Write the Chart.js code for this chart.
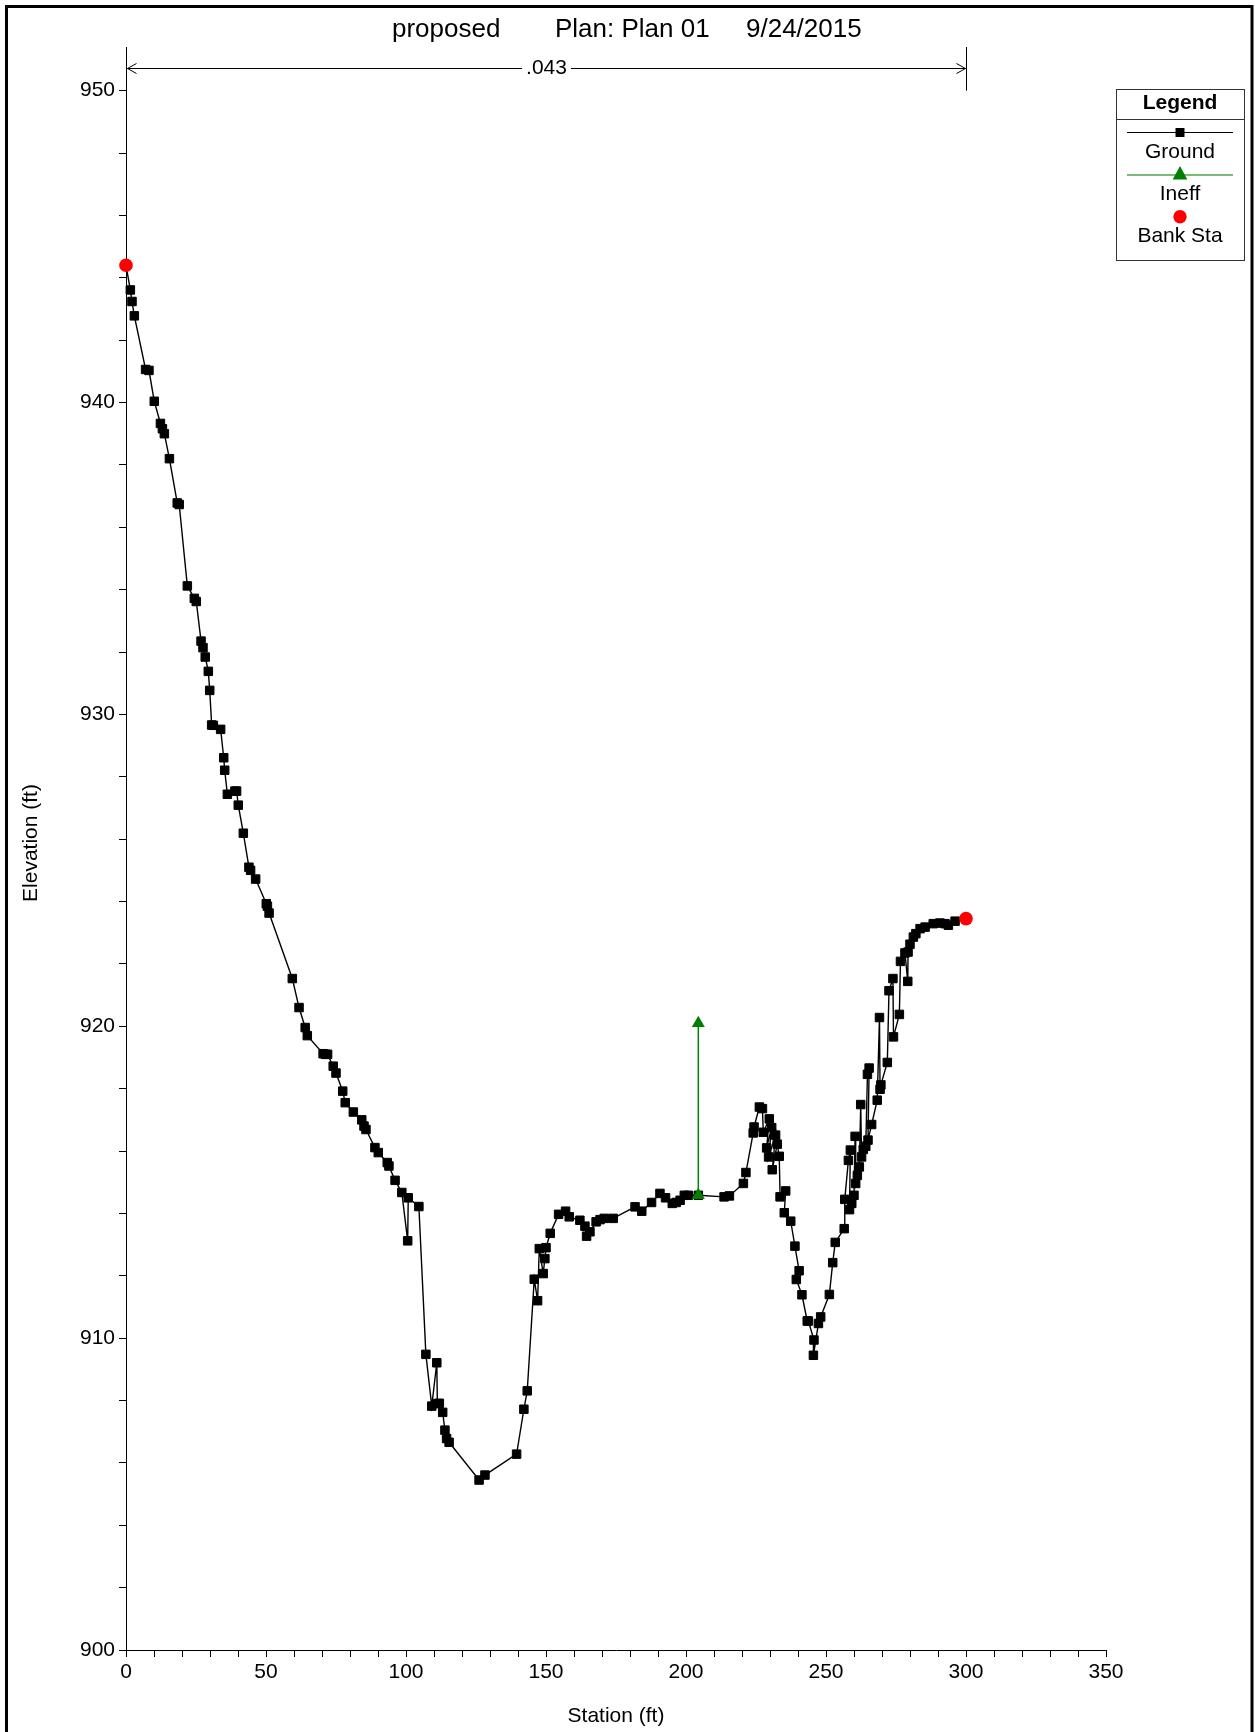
<!DOCTYPE html>
<html>
<head>
<meta charset="utf-8">
<script src="https://cdn.jsdelivr.net/npm/chart.js@4.4.1/dist/chart.umd.min.js"></script>
<style>
  html, body { margin: 0; padding: 0; background: #fff; }
  canvas { display: block; }
</style>
</head>
<body>
<canvas id="c" width="1255" height="1732"></canvas>
<script>
// ---- Data ----
const titleParts = ['proposed', 'Plan: Plan 01', '9/24/2015'];
const xTitle = 'Station (ft)';
const yTitle = 'Elevation (ft)';
const nValueLabel = '.043';
const nValueRange = [0, 300];

const groundStation = [
  0, 1.55, 2.14, 2.98, 7.0, 8.2, 10.1, 12.3, 13.0, 13.7, 15.5, 18.3, 19.0, 21.9, 24.4, 25.1,
  26.8, 27.5, 28.3, 29.4, 29.9, 30.6, 31.2, 33.8, 34.9, 35.25, 36.2, 38.9, 39.5, 40.1, 41.9,
  43.9, 44.5, 46.3, 50.1, 50.5, 51.1, 59.4, 61.8, 64.0, 64.75, 70.4, 71.2, 72.0, 74.0, 75.0,
  77.4, 78.3, 81.2, 84.2, 85.0, 85.7, 88.9, 90.1, 93.3, 93.9, 96.1, 98.5, 100.6, 100.8, 104.6,
  107.1, 109.2, 111.0, 111.2, 111.9, 113.1, 113.9, 114.5, 115.4, 126.1, 128.2, 139.5, 142.1,
  143.3, 145.8, 147.0, 147.6, 149.0, 149.6, 150.0, 151.5, 154.5, 157.0, 158.3, 162.1, 163.9,
  164.5, 165.7, 167.9, 169.3, 170.8, 174.0, 181.8, 184.2, 187.7, 190.7, 192.7, 195.1, 196.5,
  197.9, 199.4, 200.8, 204.4, 213.6, 215.5, 220.5, 221.4, 224.0, 224.3, 226.2, 227.3, 227.6,
  229.75, 228.8, 230.6, 229.5, 232.0, 230.8, 232.6, 233.3, 233.6, 235.6, 235.1, 237.4, 238.9,
  240.4, 239.4, 241.4, 243.3, 243.7, 245.7, 245.5, 247.3, 248.1, 251.2, 252.4, 253.3, 256.5,
  256.7, 258.0, 258.7, 258.4, 259.2, 260.0, 260.4, 260.6, 261.2, 261.9, 262.4, 262.7, 263.3,
  264.2, 264.8, 265.4, 265.0, 266.3, 268.3, 269.1, 269.3, 269.6, 271.9, 272.5, 273.9, 274.1,
  276.2, 276.6, 278.2, 279.2, 279.3, 280.0, 281.2, 282.1, 283.6, 285.4, 288.3, 290.7, 292.5,
  293.7, 296.1, 300
];
const groundElev = [
  944.4, 943.61, 943.24, 942.78, 941.06, 941.03, 940.04, 939.33, 939.16, 939.0, 938.2, 936.78, 936.73, 934.12, 933.72, 933.62,
  932.35, 932.14, 931.84, 931.38, 930.77, 929.66, 929.65, 929.52, 928.61, 928.21, 927.44, 927.54, 927.54, 927.09, 926.19,
  925.1, 925.0, 924.72, 923.93, 923.85, 923.63, 921.53, 920.6, 919.96, 919.7, 919.12, 919.1, 919.1, 918.72, 918.5,
  917.92, 917.55, 917.25, 917.0, 916.8, 916.69, 916.11, 915.95, 915.63, 915.52, 915.06, 914.67, 913.12, 914.5, 914.22,
  909.48, 907.82, 909.21, 907.9, 907.91, 907.62, 907.05, 906.78, 906.66, 905.45, 905.61, 906.28, 907.72,
  908.31, 911.89, 911.2, 912.87, 912.07, 912.55, 912.9, 913.36, 913.97, 914.07, 913.89, 913.78, 913.59,
  913.27, 913.41, 913.73, 913.8, 913.84, 913.84, 914.21, 914.07, 914.35, 914.64, 914.5, 914.32, 914.35,
  914.42, 914.58, 914.58, 914.58, 914.53, 914.56, 914.96, 915.31, 916.58, 916.77, 917.41, 917.36, 916.6,
  917.03, 916.1, 916.75, 915.81, 916.51, 915.4, 916.22, 915.83, 914.53, 914.72, 914.02, 913.75, 912.95,
  912.16, 911.88, 911.39, 910.55, 910.55, 909.94, 909.45, 910.47, 910.68, 911.4, 912.42, 913.07, 913.51,
  914.45, 915.7, 916.03, 914.12, 914.32, 914.58, 916.47, 914.96, 915.22, 915.49, 917.49, 915.81, 916.05,
  916.15, 918.46, 918.66, 916.35, 916.85, 917.63, 920.28, 917.98, 918.12, 918.84, 921.14, 921.53, 919.66,
  920.38, 922.08, 922.35, 921.44, 922.38, 922.63, 922.86, 922.97, 923.13, 923.18, 923.29, 923.31, 923.29,
  923.24, 923.37, 923.45
];
const ineffStation = [204.4, 204.4];
const ineffElev = [914.58, 920.1];
const bankStation = [0, 300];
const bankElev = [944.4, 923.45];

const xTickValues = [];
for (let v = 0; v <= 350; v += 10) xTickValues.push(v);
const yTickValues = [];
for (let v = 900; v <= 950; v += 2) yTickValues.push(v);

const legendItems = ['Ground', 'Ineff', 'Bank Sta'];

const zip = (xs, ys) => xs.map((x, i) => ({ x: x, y: ys[i] }));

const FONT = "'Liberation Sans', Arial, sans-serif";
Chart.defaults.font.family = FONT;
Chart.defaults.font.size = 21;
Chart.defaults.color = '#000';

const GREEN = '#008000';
const RED = '#ff0000';

const decorPlugin = {
  id: 'decor',
  afterDraw(chart) {
    const ctx = chart.ctx;
    const xs = chart.scales.x, ys = chart.scales.y;
    const ca = chart.chartArea;
    ctx.save();

    // outer frame
    ctx.strokeStyle = '#000';
    ctx.lineWidth = 3;
    ctx.strokeRect(6.5, 6.5, 1245.5, 1800);

    // title
    ctx.fillStyle = '#000';
    ctx.font = '26px ' + FONT;
    ctx.textBaseline = 'middle';
    ctx.textAlign = 'left';
    ctx.fillText(titleParts[0], 392, 30);
    ctx.fillText(titleParts[1], 555, 30);
    ctx.fillText(titleParts[2], 746, 30);

    // n-value bracket
    const bx0 = Math.round(xs.getPixelForValue(nValueRange[0])) + 0.5;
    const bx1 = Math.round(xs.getPixelForValue(nValueRange[1])) + 0.5;
    const by = 68.5;
    const byBottom = ys.getPixelForValue(950);
    ctx.lineWidth = 1;
    ctx.strokeStyle = '#000';
    ctx.beginPath();
    ctx.moveTo(bx0, ca.top); ctx.lineTo(bx0, byBottom);
    ctx.moveTo(bx1, ca.top); ctx.lineTo(bx1, byBottom);
    ctx.moveTo(bx0, by); ctx.lineTo(bx1, by);
    ctx.moveTo(bx0 + 10, by - 5); ctx.lineTo(bx0 + 1, by); ctx.lineTo(bx0 + 10, by + 5);
    ctx.moveTo(bx1 - 10, by - 5); ctx.lineTo(bx1 - 1, by); ctx.lineTo(bx1 - 10, by + 5);
    ctx.stroke();
    ctx.font = '21px ' + FONT;
    const mid = (bx0 + bx1) / 2;
    const tw = ctx.measureText(nValueLabel).width;
    ctx.fillStyle = '#fff';
    ctx.fillRect(mid - tw / 2 - 4, by - 10, tw + 8, 20);
    ctx.fillStyle = '#000';
    ctx.textAlign = 'center';
    ctx.fillText(nValueLabel, mid, by);

    // axis titles
    ctx.font = '21px ' + FONT;
    ctx.textAlign = 'center';
    ctx.textBaseline = 'middle';
    ctx.fillText(xTitle, 616, 1716);
    ctx.save();
    ctx.translate(31, 843);
    ctx.rotate(-Math.PI / 2);
    ctx.fillText(yTitle, 0, 0);
    ctx.restore();

    // legend box
    const lx = 1116.5, ly = 89.5, lw = 128, lh = 171;
    ctx.fillStyle = '#fff';
    ctx.fillRect(lx, ly, lw, lh);
    ctx.strokeStyle = '#333';
    ctx.lineWidth = 1;
    ctx.strokeRect(lx, ly, lw, lh);
    ctx.beginPath();
    ctx.moveTo(lx, 119.5); ctx.lineTo(lx + lw, 119.5);
    ctx.stroke();
    const cx = 1180;
    ctx.fillStyle = '#000';
    ctx.font = 'bold 21px ' + FONT;
    ctx.fillText('Legend', cx, 103);
    ctx.font = '21px ' + FONT;
    ctx.strokeStyle = '#000';
    ctx.lineWidth = 1.2;
    ctx.beginPath(); ctx.moveTo(1127, 132.5); ctx.lineTo(1233, 132.5); ctx.stroke();
    ctx.fillRect(cx - 4.5, 128, 9, 9);
    ctx.fillText(legendItems[0], cx, 152);
    ctx.strokeStyle = '#4ca64c';
    ctx.lineWidth = 1.5;
    ctx.beginPath(); ctx.moveTo(1127, 175); ctx.lineTo(1233, 175); ctx.stroke();
    ctx.fillStyle = GREEN;
    ctx.beginPath(); ctx.moveTo(cx, 166); ctx.lineTo(cx + 7.3, 179.5); ctx.lineTo(cx - 7.3, 179.5); ctx.closePath(); ctx.fill();
    ctx.fillStyle = '#000';
    ctx.fillText(legendItems[1], cx, 194);
    ctx.fillStyle = RED;
    ctx.beginPath(); ctx.arc(cx, 216.7, 6.7, 0, Math.PI * 2); ctx.fill();
    ctx.fillStyle = '#000';
    ctx.fillText(legendItems[2], cx, 236);

    ctx.restore();
  }
};

new Chart(document.getElementById('c'), {
  type: 'scatter',
  data: {
    datasets: [
      {
        label: legendItems[0],
        data: zip(groundStation, groundElev),
        showLine: true,
        clip: false,
        borderColor: '#000',
        borderWidth: 1.4,
        pointStyle: 'rect',
        pointRadius: 6,
        pointBackgroundColor: '#000',
        pointBorderColor: '#000',
        pointBorderWidth: 1,
        order: 3
      },
      {
        label: legendItems[1],
        data: zip(ineffStation, ineffElev),
        showLine: true,
        clip: false,
        borderColor: GREEN,
        borderWidth: 1.5,
        pointStyle: 'triangle',
        pointRadius: 7.5,
        pointBackgroundColor: GREEN,
        pointBorderColor: GREEN,
        pointBorderWidth: 0,
        order: 2
      },
      {
        label: legendItems[2],
        data: zip(bankStation, bankElev),
        showLine: false,
        clip: false,
        pointStyle: 'circle',
        pointRadius: 6.8,
        pointBackgroundColor: RED,
        pointBorderColor: RED,
        pointBorderWidth: 0,
        order: 1
      }
    ]
  },
  options: {
    responsive: false,
    devicePixelRatio: 1,
    animation: false,
    events: [],
    layout: { padding: { left: 0, top: 47, right: 149, bottom: 0 } },
    plugins: { legend: { display: false }, title: { display: false }, tooltip: { enabled: false } },
    scales: {
      x: {
        type: 'linear',
        min: 0,
        max: 350,
        afterBuildTicks: s => { s.ticks = xTickValues.map(v => ({ value: v })); },
        afterFit: s => { s.height = 82; },
        ticks: {
          autoSkip: false,
          maxRotation: 0,
          padding: 3,
          color: '#000',
          font: { size: 21 },
          callback: v => (v % 50 === 0 ? String(v) : '')
        },
        grid: { drawOnChartArea: false, drawTicks: true, tickLength: 7, tickColor: '#000', tickWidth: 1 },
        border: { display: true, color: '#000', width: 1 }
      },
      y: {
        type: 'linear',
        min: 900,
        max: 951.4,
        afterBuildTicks: s => { s.ticks = yTickValues.map(v => ({ value: v })); },
        afterFit: s => { s.width = 126; },
        ticks: {
          autoSkip: false,
          padding: 4,
          color: '#000',
          font: { size: 21 },
          callback: v => (v % 10 === 0 ? String(v) : '')
        },
        grid: { drawOnChartArea: false, drawTicks: true, tickLength: 7, tickColor: '#000', tickWidth: 1 },
        border: { display: true, color: '#000', width: 1 }
      }
    }
  },
  plugins: [decorPlugin]
});
</script>
</body>
</html>
